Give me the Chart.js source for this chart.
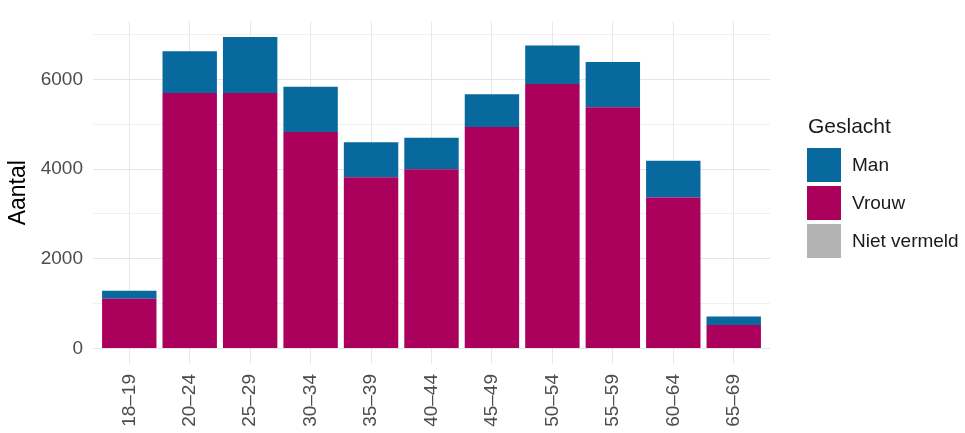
<!DOCTYPE html>
<html>
<head>
<meta charset="utf-8">
<script src="https://cdn.jsdelivr.net/npm/chart.js@4"></script>
<style>
  html, body { margin: 0; padding: 0; background: #ffffff; }
  #wrap { width: 965px; height: 433px; }
</style>
</head>
<body>
<div id="wrap"><canvas id="c" width="965" height="433"></canvas></div>
<script>
// ---- Data ----
const ageGroups = ['18–19', '20–24', '25–29', '30–34', '35–39', '40–44', '45–49', '50–54', '55–59', '60–64', '65–69'];
const vrouw = [1110, 5700, 5700, 4830, 3820, 4000, 4940, 5900, 5380, 3370, 520];
const man = [175, 930, 1250, 1010, 780, 700, 730, 860, 1010, 820, 190];
const nietVermeld = [0, 0, 0, 0, 0, 0, 0, 0, 0, 0, 0];
const yTickValues = [0, 2000, 4000, 6000];
const yMinorValues = [1000, 3000, 5000, 7000];
const legendTitle = 'Geslacht';
const legendOrder = ['Man', 'Vrouw', 'Niet vermeld'];

// ---- Styles ----
const COLOR_MAN = '#07699e';
const COLOR_VROUW = '#ab005c';
const COLOR_NIET = '#b3b3b3';
const FONT = '"Liberation Sans", Arial, Helvetica, sans-serif';

const totals = ageGroups.map((_, i) => vrouw[i] + man[i] + nietVermeld[i]);
const maxTotal = Math.max(...totals);
const expand = maxTotal * 0.05;

const toPoints = arr => arr.map((v, i) => ({ x: i + 1, y: v }));

const legendPlugin = {
  id: 'ggLegend',
  afterDraw(chart) {
    const ctx = chart.ctx;
    const area = chart.chartArea;
    const x0 = area.right + 37;
    ctx.save();
    ctx.textBaseline = 'middle';
    ctx.textAlign = 'left';
    ctx.fillStyle = '#1a1a1a';
    ctx.font = '21px ' + FONT;
    ctx.fillText(legendTitle, x0 + 1, 127);
    legendOrder.forEach((label, i) => {
      const ds = chart.data.datasets.find(d => d.label === label);
      const y = 148 + i * 38;
      ctx.fillStyle = ds.backgroundColor;
      ctx.fillRect(x0, y, 34, 34);
      ctx.fillStyle = '#1a1a1a';
      ctx.font = '19px ' + FONT;
      ctx.fillText(label, x0 + 45, y + 18);
    });
    ctx.restore();
  }
};

new Chart(document.getElementById('c'), {
  type: 'bar',
  data: {
    datasets: [
      { label: 'Vrouw', data: toPoints(vrouw), backgroundColor: COLOR_VROUW },
      { label: 'Man', data: toPoints(man), backgroundColor: COLOR_MAN },
      { label: 'Niet vermeld', data: toPoints(nietVermeld), backgroundColor: COLOR_NIET }
    ]
  },
  options: {
    responsive: false,
    animation: false,
    devicePixelRatio: 1,
    categoryPercentage: 0.9,
    barPercentage: 1.0,
    layout: { padding: { left: 0, right: 195, top: 10, bottom: 0 } },
    plugins: {
      legend: { display: false },
      tooltip: { enabled: false }
    },
    scales: {
      x: {
        type: 'linear',
        stacked: true,
        offset: false,
        min: 0.4,
        max: ageGroups.length + 0.6,
        afterBuildTicks: s => { s.ticks = ageGroups.map((_, i) => ({ value: i + 1 })); },
        afterFit: s => { s.height = 69; },
        border: { display: false },
        grid: { offset: false, color: '#e6e6ec', lineWidth: 1, drawTicks: false },
        ticks: {
          autoSkip: false,
          minRotation: 90,
          maxRotation: 90,
          padding: 10,
          color: '#4d4d4d',
          font: { family: FONT, size: 19 },
          callback: v => ageGroups[v - 1]
        }
      },
      y: {
        stacked: true,
        min: -expand,
        max: maxTotal + expand,
        afterBuildTicks: s => {
          s.ticks = yTickValues.concat(yMinorValues).sort((a, b) => a - b).map(v => ({ value: v }));
        },
        afterFit: s => { s.width = 93; },
        border: { display: false },
        grid: {
          drawTicks: false,
          color: c => yTickValues.includes(c.tick.value) ? '#e4e4ea' : '#f0f0f4',
          lineWidth: 1
        },
        ticks: {
          padding: 10,
          color: '#4d4d4d',
          font: { family: FONT, size: 19 },
          callback: v => yTickValues.includes(v) ? String(v) : ''
        },
        title: {
          display: true,
          text: 'Aantal',
          color: '#000000',
          font: { family: FONT, size: 23 },
          padding: { top: 5, bottom: 0 }
        }
      }
    }
  },
  plugins: [legendPlugin]
});
</script>
</body>
</html>
